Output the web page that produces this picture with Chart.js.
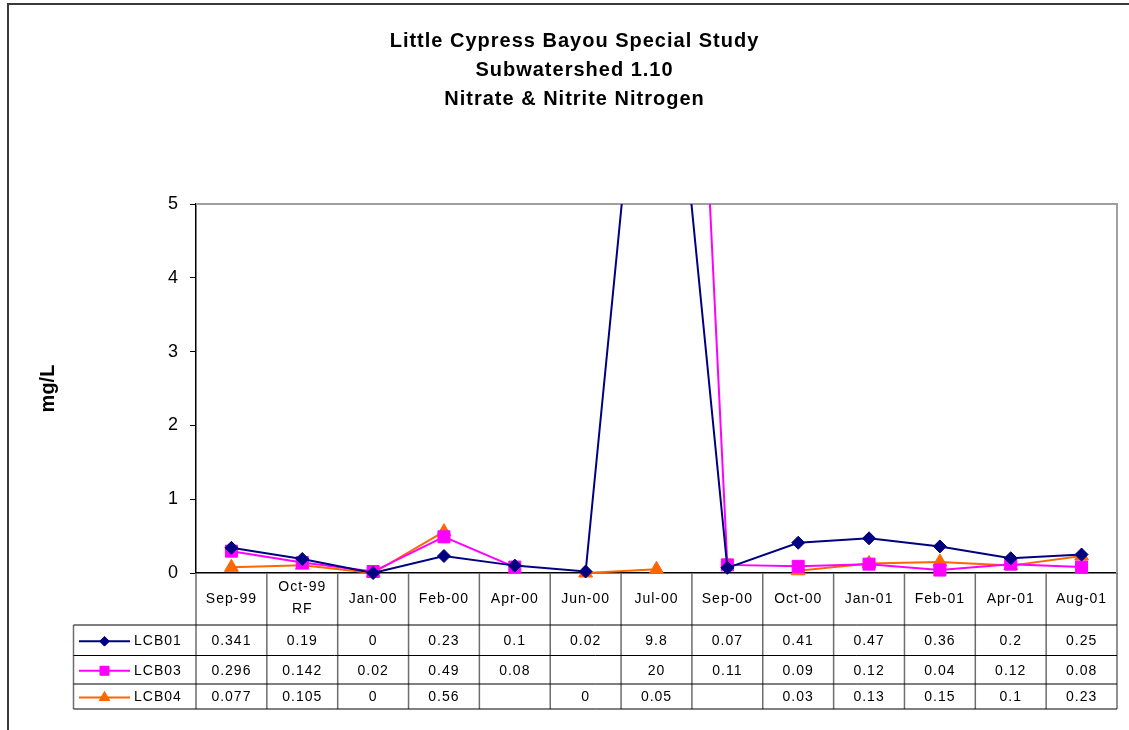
<!DOCTYPE html>
<html>
<head>
<meta charset="utf-8">
<title>Little Cypress Bayou - Nitrate &amp; Nitrite Nitrogen</title>
<script src="https://cdn.jsdelivr.net/npm/chart.js@4.4.1/dist/chart.umd.min.js"></script>
<style>
  html, body { margin: 0; padding: 0; background: #fff; }
  canvas { display: block; }
</style>
</head>
<body>
<canvas id="nitrateChart" width="1129" height="730"></canvas>
<script>
const titleLines = ['Little Cypress Bayou Special Study', 'Subwatershed 1.10', 'Nitrate & Nitrite Nitrogen'];
const sampleDates = ['Sep-99', ['Oct-99', 'RF'], 'Jan-00', 'Feb-00', 'Apr-00', 'Jun-00', 'Jul-00',
  'Sep-00', 'Oct-00', 'Jan-01', 'Feb-01', 'Apr-01', 'Aug-01'];
const lcb01 = [0.341, 0.19, 0, 0.23, 0.1, 0.02, 9.8, 0.07, 0.41, 0.47, 0.36, 0.2, 0.25];
const lcb03 = [0.296, 0.142, 0.02, 0.49, 0.08, null, 20, 0.11, 0.09, 0.12, 0.04, 0.12, 0.08];
const lcb04 = [0.077, 0.105, 0, 0.56, null, 0, 0.05, null, 0.03, 0.13, 0.15, 0.1, 0.23];
const yMin = 0;
const yMax = 5;
const yStep = 1;

const FONT = "'Liberation Sans', Arial, sans-serif";

// lines past the top of the plot get cut at the frame, markers on the zero line don't
const clipTop = { left: 20, top: 0, right: 20, bottom: 20 };

// outer chart border, spaced-out title, grey top/right edge of the plot area
const frame = {
  id: 'frame',
  beforeDraw(chart) {
    const ctx = chart.ctx;
    ctx.save();
    ctx.strokeStyle = '#3a3a3a';
    ctx.lineWidth = 2;
    ctx.beginPath();
    ctx.moveTo(8, chart.height);
    ctx.lineTo(8, 4);
    ctx.lineTo(chart.width, 4);
    ctx.stroke();

    ctx.fillStyle = '#000';
    ctx.font = 'bold 20px ' + FONT;
    ctx.letterSpacing = '1px';
    ctx.textAlign = 'center';
    ctx.textBaseline = 'alphabetic';
    titleLines.forEach((line, i) => ctx.fillText(line, 574.5, 46.5 + i * 29.2));
    ctx.restore();
  },
  beforeDatasetsDraw(chart) {
    const { ctx, chartArea: a } = chart;
    ctx.save();
    ctx.strokeStyle = '#a0a0a0';
    ctx.lineWidth = 2;
    ctx.beginPath();
    ctx.moveTo(a.left, a.top);
    ctx.lineTo(a.right, a.top);
    ctx.lineTo(a.right, a.bottom);
    ctx.stroke();
    ctx.restore();
  }
};

// data table under the x axis, one column per sample date
const dataTable = {
  id: 'dataTable',
  beforeDatasetsDraw(chart) {
    const { ctx, chartArea: a, scales: { x } } = chart;
    const n = chart.data.labels.length;
    const colW = x.width / n;
    const rows = [625, 655.5, 684, 709];
    const legendLeft = 73.5;
    const edge = i => i < n ? x.getPixelForValue(i) - colW / 2 : x.getPixelForValue(n - 1) + colW / 2;

    ctx.save();
    // column separators
    ctx.strokeStyle = '#6e6e6e';
    ctx.lineWidth = 1.5;
    ctx.beginPath();
    for (let i = 0; i <= n; i++) {
      const px = edge(i);
      ctx.moveTo(px, a.bottom);
      ctx.lineTo(px, rows[rows.length - 1]);
    }
    ctx.moveTo(legendLeft, rows[0]);
    ctx.lineTo(legendLeft, rows[rows.length - 1]);
    ctx.stroke();

    // row separators
    ctx.strokeStyle = '#000';
    ctx.lineWidth = 1;
    ctx.beginPath();
    rows.forEach(ry => {
      ctx.moveTo(legendLeft, ry);
      ctx.lineTo(edge(n), ry);
    });
    ctx.stroke();

    ctx.fillStyle = '#000';
    ctx.font = '14px ' + FONT;
    ctx.letterSpacing = '1px';
    ctx.textAlign = 'center';
    ctx.textBaseline = 'middle';

    // header: sample dates
    const headMid = (a.bottom + rows[0]) / 2;
    chart.data.labels.forEach((lab, i) => {
      const cx = x.getPixelForValue(i);
      if (Array.isArray(lab)) {
        ctx.fillText(lab[0], cx, headMid - 12);
        ctx.fillText(lab[1], cx, headMid + 10);
      } else {
        ctx.fillText(lab, cx, headMid);
      }
    });

    // one row per station
    chart.data.datasets.forEach((ds, r) => {
      const cy = (rows[r] + rows[r + 1]) / 2 + 1;
      ctx.textAlign = 'center';
      ds.data.forEach((v, i) => {
        if (v === null) return;
        ctx.fillText(String(v), x.getPixelForValue(i), cy);
      });

      // legend key
      ctx.strokeStyle = ds.borderColor;
      ctx.fillStyle = ds.backgroundColor;
      ctx.lineWidth = 2;
      ctx.beginPath();
      ctx.moveTo(79, cy);
      ctx.lineTo(130, cy);
      ctx.stroke();
      ctx.lineWidth = 1;
      Chart.helpers.drawPoint(ctx, {
        pointStyle: ds.pointStyle,
        radius: ds.pointRadius * 0.75,
        rotation: 0,
        borderWidth: 1
      }, 104.5, cy);
      ctx.fillStyle = '#000';
      ctx.textAlign = 'left';
      ctx.fillText(ds.label, 134, cy);
    });
    ctx.restore();
  }
};

new Chart(document.getElementById('nitrateChart'), {
  type: 'line',
  data: {
    labels: sampleDates,
    datasets: [
      {
        label: 'LCB01', data: lcb01,
        borderColor: '#000080', backgroundColor: '#000080',
        pointStyle: 'rectRot', pointRadius: 6.5, clip: clipTop
      },
      {
        label: 'LCB03', data: lcb03,
        borderColor: '#ff00ff', backgroundColor: '#ff00ff',
        pointStyle: 'rect', pointRadius: 8.5, clip: clipTop
      },
      {
        label: 'LCB04', data: lcb04,
        borderColor: '#ff6600', backgroundColor: '#ff6600',
        pointStyle: 'triangle', pointRadius: 8, clip: clipTop
      }
    ]
  },
  options: {
    responsive: false,
    animation: false,
    spanGaps: false,
    events: [],
    elements: {
      line: { borderWidth: 2, tension: 0 },
      point: { borderWidth: 1 }
    },
    layout: { padding: { left: 0, right: 12, top: 204, bottom: 0 } },
    plugins: {
      legend: { display: false },
      tooltip: { enabled: false },
      title: { display: false }
    },
    scales: {
      x: {
        offset: true,
        grid: { display: false },
        border: { color: '#000', width: 1.5 },
        ticks: { display: false },
        afterFit(scale) { scale.height = 157; }
      },
      y: {
        min: yMin,
        max: yMax,
        ticks: { stepSize: yStep, color: '#000', padding: 12, font: { family: FONT, size: 18 } },
        grid: { drawOnChartArea: false, color: '#000', tickLength: 6 },
        border: { color: '#000', width: 1.5 },
        title: {
          display: true,
          text: 'mg/L',
          color: '#000',
          font: { family: FONT, size: 20, weight: 'bold' },
          padding: { top: 36, bottom: 0 }
        },
        afterFit(scale) { scale.width = 196; }
      }
    }
  },
  plugins: [frame, dataTable]
});
</script>
</body>
</html>
